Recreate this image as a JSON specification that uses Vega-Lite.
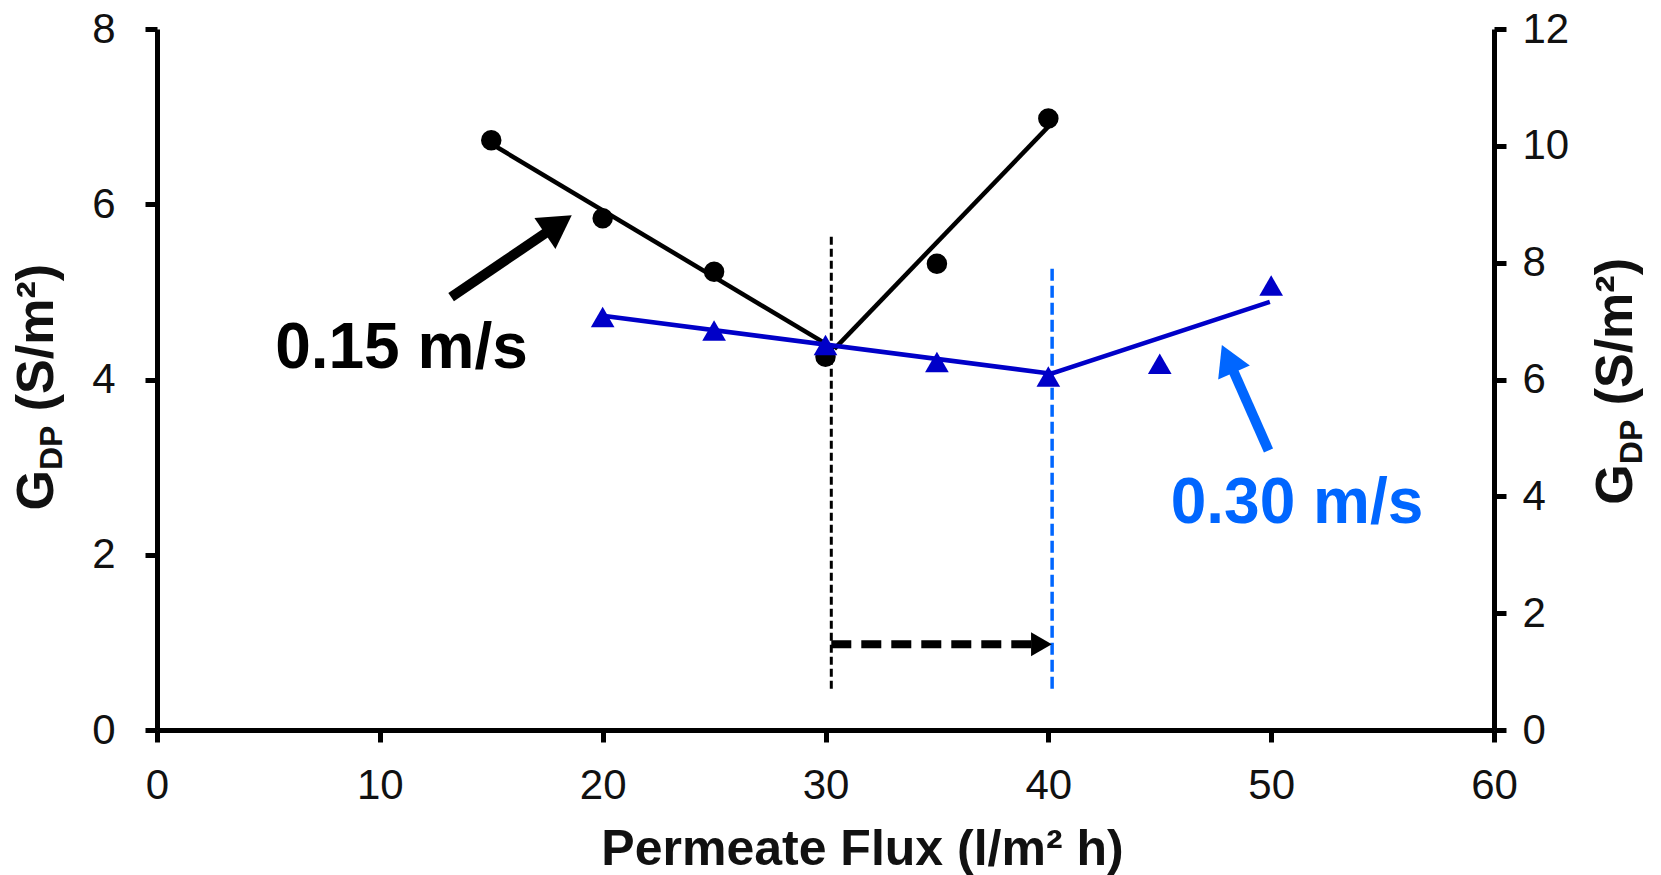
{
  "$schema": "https://vega.github.io/schema/vega-lite/v6.json",
  "width": 1337,
  "height": 701,
  "autosize": {"type": "none"},
  "padding": {"left": 157, "top": 29, "right": 167, "bottom": 145},
  "background": "white",
  "config": {
    "view": {"stroke": null},
    "font": "Liberation Sans",
    "axis": {
      "grid": false,
      "domainColor": "#000",
      "domainWidth": 5,
      "tickColor": "#000",
      "tickWidth": 5,
      "tickSize": 12,
      "labelColor": "#111",
      "labelFont": "Liberation Sans",
      "labelFontSize": 42,
      "labelFlush": false,
      "labelOverlap": false
    }
  },
  "datasets": {
    "gdp015": [
      {"x": 15, "y": 6.73},
      {"x": 20, "y": 5.84},
      {"x": 25, "y": 5.23},
      {"x": 30, "y": 4.26},
      {"x": 35, "y": 5.32},
      {"x": 40, "y": 6.98}
    ],
    "fit015": [
      {"x": 15.0, "y": 6.69, "seg": "falling"},
      {"x": 30.4, "y": 4.35, "seg": "falling"},
      {"x": 30.4, "y": 4.35, "seg": "rising"},
      {"x": 40.13, "y": 6.92, "seg": "rising"}
    ],
    "gdp030": [
      {"x": 20, "y": 7.07},
      {"x": 25, "y": 6.84},
      {"x": 30, "y": 6.59},
      {"x": 35, "y": 6.30},
      {"x": 40, "y": 6.05},
      {"x": 45, "y": 6.27},
      {"x": 50, "y": 7.61}
    ],
    "fit030": [
      {"x": 20.0, "y": 7.09},
      {"x": 40.13, "y": 6.10},
      {"x": 49.94, "y": 7.33}
    ],
    "minBlack": [{"x": 30.26, "y": 0.47, "y2": 5.63}],
    "minBlue": [{"x": 40.17, "y": 0.47, "y2": 5.285}],
    "shiftLine": [{"x": 30.26, "x2": 39.6, "y": 0.98}],
    "shiftHead": [{"x": 39.69, "y": 0.98}],
    "arrow015": [{"x": 13.2, "y": 4.94, "x2": 18.01, "y2": 5.77}],
    "head015": [{"x": 18.01, "y": 5.771}],
    "arrow030": [{"x": 49.88, "y": 3.19, "x2": 48.06, "y2": 4.236}],
    "head030": [{"x": 48.06, "y": 4.236}],
    "label015": [{"x": 10.97, "y": 4.13, "text": "0.15 m/s"}],
    "label030": [{"x": 51.16, "y": 2.36, "text": "0.30 m/s"}],
    "yTitles": [
      {"x": -4.66, "y": 2.504, "text": "G", "part": "main"},
      {"x": -4.25, "y": 2.966, "text": "DP", "part": "sub"},
      {"x": -4.66, "y": 3.638, "text": "(S/m²)", "part": "main"},
      {"x": 66.21, "y": 2.572, "text": "G", "part": "main"},
      {"x": 66.62, "y": 3.034, "text": "DP", "part": "sub"},
      {"x": 66.21, "y": 3.705, "text": "(S/m²)", "part": "main"}
    ]
  },
  "encoding": {
    "x": {
      "field": "x",
      "type": "quantitative",
      "scale": {"domain": [0, 60], "nice": false, "zero": false},
      "axis": {
        "values": [0, 10, 20, 30, 40, 50, 60],
        "labelPadding": 23,
        "title": "Permeate Flux (l/m² h)",
        "titleFont": "Liberation Sans",
        "titleFontSize": 50,
        "titleFontWeight": "bold",
        "titleColor": "#111",
        "titleX": 705,
        "titleY": 134,
        "titleBaseline": "alphabetic",
        "titleAlign": "center"
      }
    }
  },
  "layer": [
    {
      "encoding": {
        "y": {
          "field": "y",
          "type": "quantitative",
          "scale": {"domain": [0, 8], "nice": false, "zero": false},
          "axis": {
            "orient": "left",
            "values": [0, 2, 4, 6, 8],
            "labelPadding": 30,
            "title": null
          }
        }
      },
      "layer": [
        {
          "data": {"name": "minBlack"},
          "mark": {"type": "rule", "color": "#000", "strokeWidth": 3, "strokeDash": [8, 4]},
          "encoding": {"y2": {"field": "y2"}}
        },
        {
          "data": {"name": "minBlue"},
          "mark": {"type": "rule", "color": "#0066FF", "strokeWidth": 3.5, "strokeDash": [12, 5]},
          "encoding": {"y2": {"field": "y2"}}
        },
        {
          "data": {"name": "shiftLine"},
          "mark": {"type": "rule", "color": "#000", "strokeWidth": 8, "strokeDash": [20, 10]},
          "encoding": {"x2": {"field": "x2"}}
        },
        {
          "data": {"name": "shiftHead"},
          "mark": {"type": "point", "shape": "triangle-right", "filled": true, "color": "#000", "opacity": 1, "size": 576}
        },
        {
          "data": {"name": "fit015"},
          "mark": {"type": "line", "color": "#000", "strokeWidth": 4.5},
          "encoding": {"detail": {"field": "seg"}}
        },
        {
          "data": {"name": "gdp015"},
          "mark": {"type": "point", "shape": "circle", "filled": true, "color": "#000", "opacity": 1, "size": 420}
        },
        {
          "data": {"name": "arrow015"},
          "mark": {"type": "rule", "color": "#000", "strokeWidth": 10},
          "encoding": {"x2": {"field": "x2"}, "y2": {"field": "y2"}}
        },
        {
          "data": {"name": "head015"},
          "mark": {"type": "point", "shape": "triangle-up", "angle": 55.8, "filled": true, "color": "#000", "opacity": 1, "size": 1400}
        },
        {
          "data": {"name": "arrow030"},
          "mark": {"type": "rule", "color": "#0066FF", "strokeWidth": 10},
          "encoding": {"x2": {"field": "x2"}, "y2": {"field": "y2"}}
        },
        {
          "data": {"name": "head030"},
          "mark": {"type": "point", "shape": "triangle-up", "angle": 336.1, "filled": true, "color": "#0066FF", "opacity": 1, "size": 1200}
        },
        {
          "data": {"name": "label015"},
          "mark": {"type": "text", "font": "Liberation Sans", "fontSize": 64, "fontWeight": "bold", "color": "#000", "align": "center", "baseline": "alphabetic"},
          "encoding": {"text": {"field": "text"}}
        },
        {
          "data": {"name": "label030"},
          "mark": {"type": "text", "font": "Liberation Sans", "fontSize": 64, "fontWeight": "bold", "color": "#0066FF", "align": "center", "baseline": "alphabetic"},
          "encoding": {"text": {"field": "text"}}
        },
        {
          "data": {"name": "yTitles"},
          "transform": [{"filter": "datum.part === 'main'"}],
          "mark": {"type": "text", "font": "Liberation Sans", "fontSize": 52, "fontWeight": "bold", "color": "#111", "align": "left", "baseline": "alphabetic", "angle": 270},
          "encoding": {"text": {"field": "text"}}
        },
        {
          "data": {"name": "yTitles"},
          "transform": [{"filter": "datum.part === 'sub'"}],
          "mark": {"type": "text", "font": "Liberation Sans", "fontSize": 32, "fontWeight": "bold", "color": "#111", "align": "left", "baseline": "alphabetic", "angle": 270},
          "encoding": {"text": {"field": "text"}}
        }
      ]
    },
    {
      "encoding": {
        "y": {
          "field": "y",
          "type": "quantitative",
          "scale": {"domain": [0, 12], "nice": false, "zero": false},
          "axis": {
            "orient": "right",
            "values": [0, 2, 4, 6, 8, 10, 12],
            "labelPadding": 16,
            "title": null
          }
        }
      },
      "layer": [
        {
          "data": {"name": "fit030"},
          "mark": {"type": "line", "color": "#0000C8", "strokeWidth": 4.5}
        },
        {
          "data": {"name": "gdp030"},
          "mark": {"type": "point", "shape": "triangle-up", "filled": true, "color": "#0000C8", "opacity": 1, "size": 560}
        }
      ]
    }
  ],
  "resolve": {"scale": {"y": "independent"}}
}
